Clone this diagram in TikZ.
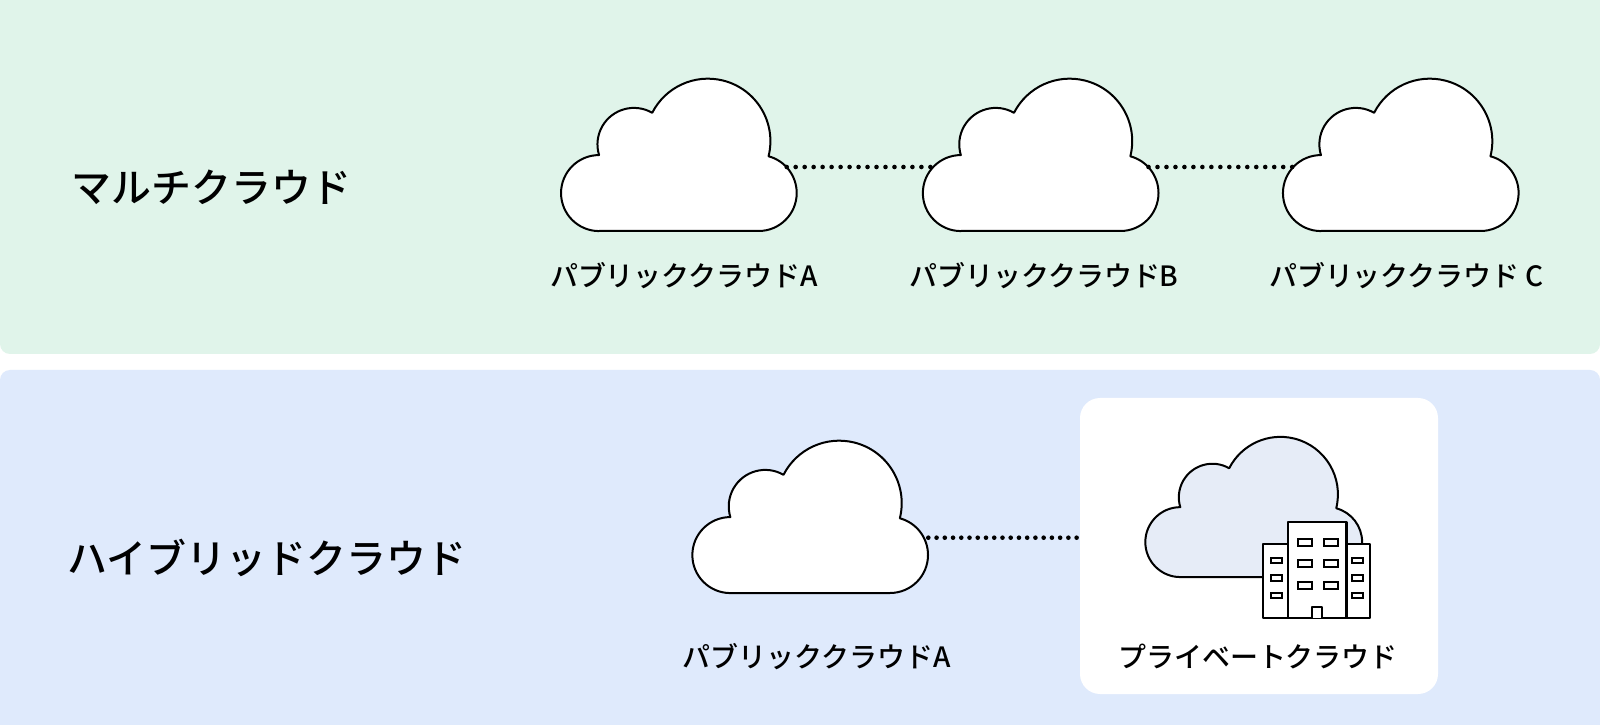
\documentclass[tikz,border=0pt]{standalone}
\usepackage{fontspec}
\setmainfont{Noto Sans CJK JP Medium}
\definecolor{MultiGreen}{RGB}{224,244,234}
\definecolor{HybridBlue}{RGB}{223,234,252}
\definecolor{PrivateBlue}{RGB}{230,236,247}
\tikzset{
  px/.style={line width=#1*0.01cm},
  cloudline/.style={draw=black, px=2, line join=round},
  bandbox/.style={rounded corners=0.1cm},
  dotlink/.style={px=4.6, line cap=round, dash pattern=on 0pt off #1*0.01cm},
  titlelabel/.style={font=\fontsize{11.35pt}{13pt}\selectfont, anchor=west, inner sep=0pt},
  cloudlabel/.style={font=\fontsize{7.95pt}{10pt}\selectfont, anchor=center},
  wallbox/.style={fill=white, draw=black, px=2.2, line join=round},
  windowbox/.style={fill=white, draw=black, px=2},
  pics/cloudshape/.style={code={
    \draw[cloudline, fill=#1] (38.35,0) -- (198,0)
      arc[start angle=-90, end angle=75, radius=38]
      arc[start angle=-14, end angle=153, radius=62.5]
      arc[start angle=60, end angle=197, radius=36.5]
      arc[start angle=90, end angle=270, radius=38] -- cycle;
    \coordinate (-right) at (226,64);
    \coordinate (-left) at (11,64);
    \coordinate (-low) at (236.3,55.3);
  }}
}

\begin{document}
\begin{tikzpicture}[x=0.01cm, y=0.01cm]
\useasboundingbox (0,0) rectangle (1600,724);

\def\btop{493}    % top cloud row, bottom edge
\def\blow{131}    % lower cloud row, bottom edge

% Bands
\fill[white] (0,0) rectangle (1600,724);
\fill[MultiGreen, bandbox] (0,370) rectangle (1600,740);
\fill[HybridBlue, bandbox] (0,-16) rectangle (1600,354);
\fill[white, rounded corners=0.2cm] (1080,30) rectangle (1438,326);

% Titles
\node[titlelabel] (multititle) at (71,537) {マルチクラウド};
\node[titlelabel] (hybridtitle) at (67,166) {ハイブリッドクラウド};

% --- Multi cloud row ---
\pic (clouda) at (560.7,\btop) {cloudshape=white};
\pic (cloudb) at (922.5,\btop) {cloudshape=white};
\pic (cloudc) at (1282.6,\btop) {cloudshape=white};
\draw[dotlink=8.98] (clouda-right) -- (cloudb-left);
\draw[dotlink=8.98] (cloudb-right) -- (cloudc-left);
\node[cloudlabel] (labela) at (684,448) {パブリッククラウドA};
\node[cloudlabel] (labelb) at (1044,448) {パブリッククラウドB};
\node[cloudlabel] (labelc) at (1406.5,448) {パブリッククラウド C};

% --- Hybrid row ---
\pic (cloudd) at (692,\blow) {cloudshape=white};
\coordinate (boxedge) at (1078,186.3);
\draw[dotlink=8.24] (cloudd-low) -- (boxedge);
\node[cloudlabel] (labeld) at (816.5,67) {パブリッククラウドA};

% Private cloud
\pic[scale=0.92] (cloude) at (1145,147) {cloudshape=PrivateBlue};
\node[cloudlabel] (labele) at (1258,67) {プライベートクラウド};

% Building
\draw[wallbox] (1263.3,106) rectangle (1370,179.7);
\draw[wallbox] (1287.7,106) rectangle (1346.5,202.3);
\draw[wallbox] (1311.7,106) |- (1322.3,117.3) -- (1322.3,106);
\foreach \y in {178.5,157.2,135.5} {
  \draw[windowbox] (1297.5,\y) rectangle (1311.5,\y+7);
  \draw[windowbox] (1323.8,\y) rectangle (1337.8,\y+7);
}
\foreach \y in {161.2,143.5,125.8} {
  \draw[windowbox] (1270.6,\y) rectangle (1281.7,\y+5.3);
  \draw[windowbox] (1351.9,\y) rectangle (1363.1,\y+5.3);
}

\end{tikzpicture}
\end{document}
